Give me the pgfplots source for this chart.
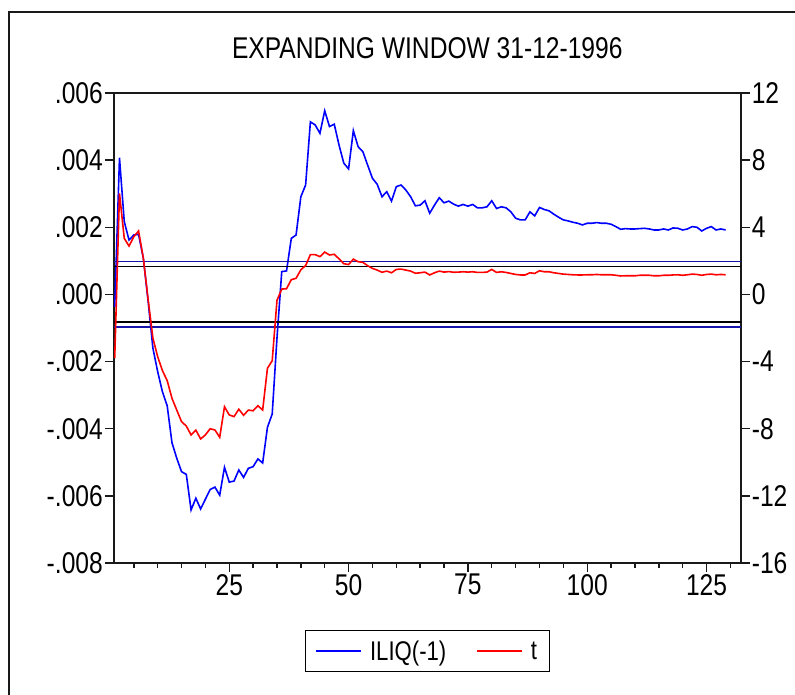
\documentclass[border=0pt]{standalone}
\usepackage{fontspec}
\setmainfont{Liberation Sans}[FakeStretch=0.82]
\usepackage{pgfplots}
\usepackage{pgfplotstable}
\pgfplotsset{compat=1.18}

\definecolor{critblue}{RGB}{20,20,170}
\definecolor{framegray}{RGB}{25,25,25}

% Rolling estimates: coefficient on ILIQ(-1) and its t statistic
\pgfplotstableread{
obs iliq t
1 -0.00037 -3.80
2 0.00407 6.02
3 0.00217 3.34
4 0.00162 2.88
5 0.00177 3.44
6 0.00179 3.78
7 0.00108 2.15
8 -0.00020 -0.30
9 -0.00160 -2.60
10 -0.00230 -3.71
11 -0.00290 -4.54
12 -0.00332 -5.14
13 -0.00442 -6.19
14 -0.00488 -6.89
15 -0.00528 -7.58
16 -0.00536 -7.84
17 -0.00642 -8.37
18 -0.00607 -8.08
19 -0.00639 -8.61
20 -0.00610 -8.37
21 -0.00581 -8.00
22 -0.00574 -8.08
23 -0.00598 -8.51
24 -0.00515 -6.69
25 -0.00559 -7.18
26 -0.00556 -7.28
27 -0.00523 -6.84
28 -0.00545 -7.20
29 -0.00518 -6.89
30 -0.00513 -6.93
31 -0.00490 -6.63
32 -0.00502 -6.89
33 -0.00396 -4.40
34 -0.00356 -3.95
35 -0.00130 -0.35
36 0.00068 0.32
37 0.00070 0.34
38 0.00167 0.88
39 0.00177 0.96
40 0.00291 1.47
41 0.00326 1.72
42 0.00514 2.37
43 0.00505 2.37
44 0.00480 2.25
45 0.00547 2.52
46 0.00500 2.35
47 0.00507 2.39
48 0.00445 2.12
49 0.00391 1.83
50 0.00374 1.78
51 0.00488 2.10
52 0.00440 1.95
53 0.00425 1.91
54 0.00385 1.71
55 0.00346 1.55
56 0.00328 1.45
57 0.00291 1.32
58 0.00306 1.39
59 0.00278 1.29
60 0.00321 1.49
61 0.00326 1.51
62 0.00311 1.45
63 0.00291 1.39
64 0.00264 1.26
65 0.00266 1.29
66 0.00279 1.33
67 0.00242 1.16
68 0.00266 1.29
69 0.00288 1.39
70 0.00273 1.33
71 0.00278 1.36
72 0.00269 1.32
73 0.00263 1.33
74 0.00268 1.35
75 0.00263 1.33
76 0.00268 1.35
77 0.00258 1.31
78 0.00258 1.31
79 0.00261 1.33
80 0.00279 1.49
81 0.00256 1.31
82 0.00261 1.35
83 0.00258 1.31
84 0.00246 1.25
85 0.00227 1.19
86 0.00222 1.16
87 0.00222 1.16
88 0.00246 1.29
89 0.00234 1.25
90 0.00259 1.41
91 0.00253 1.35
92 0.00249 1.35
93 0.00239 1.29
94 0.00230 1.25
95 0.00222 1.21
96 0.00219 1.19
97 0.00215 1.17
98 0.00212 1.16
99 0.00207 1.16
100 0.00212 1.17
101 0.00212 1.17
102 0.00214 1.19
103 0.00212 1.17
104 0.00212 1.17
105 0.00209 1.17
106 0.00202 1.14
107 0.00194 1.10
108 0.00196 1.11
109 0.00195 1.11
110 0.00195 1.11
111 0.00196 1.14
112 0.00197 1.14
113 0.00195 1.14
114 0.00192 1.11
115 0.00192 1.11
116 0.00195 1.14
117 0.00192 1.14
118 0.00198 1.16
119 0.00197 1.17
120 0.00192 1.14
121 0.00195 1.17
122 0.00202 1.21
123 0.00200 1.19
124 0.00189 1.14
125 0.00197 1.19
126 0.00202 1.21
127 0.00192 1.17
128 0.00195 1.19
129 0.00192 1.17
}\rolling

\pgfplotsset{
  twinaxis/.style={
    scale only axis,
    width=626.6pt, height=470pt,
    xmin=0.85, xmax=132.14,
    tick align=outside,
    major tick length=9pt,
    minor tick length=5pt,
    every tick/.style={framegray, line width=1.4pt},
    axis line style={framegray, line width=2pt},
    tick label style={font=\fontsize{30}{36}\selectfont, inner sep=2pt},
    scaled ticks=false,
    clip=false,
  }
}

\begin{document}
\begin{tikzpicture}[x=1pt,y=1pt]
\useasboundingbox (-114,-132) rectangle (681,563);
\draw[line width=1.8pt, framegray] (-105,-200) rectangle (800,551);

\begin{axis}[
  twinaxis,
  ymin=-0.008, ymax=0.006,
  ytick={-0.008,-0.006,-0.004,-0.002,0,0.002,0.004,0.006},
  yticklabels={-.008,-.006,-.004,-.002,.000,.002,.004,.006},
  ytick pos=left,
  xtick={25,50,75,100,125},
  xticklabels={25,50,75,100,125},
  minor xtick={5,10,15,20,30,35,40,45,55,60,65,70,80,85,90,95,105,110,115,120,130},
  xtick pos=bottom,
  title={EXPANDING WINDOW 31-12-1996},
  title style={font=\fontsize{30}{36}\selectfont, at={(0.5,1)}, anchor=base, yshift=28pt},
]
\addplot[blue, line width=1.6pt] table[x=obs, y=iliq] {\rolling};
\end{axis}

\begin{axis}[
  twinaxis,
  ymin=-16, ymax=12,
  ytick={-16,-12,-8,-4,0,4,8,12},
  yticklabels={-16,-12,-8,-4,0,4,8,12},
  axis y line*=right,
  axis x line=none,
  legend columns=2,
  legend style={at={(0.5,-0.1426)}, anchor=north, draw=black, line width=1.2pt,
    font=\fontsize{27}{32}\selectfont, inner xsep=10pt, inner ysep=5pt,
    nodes={inner xsep=2pt, inner ysep=5pt}},
  legend image code/.code={\draw[#1] (0pt,0pt) -- (45pt,0pt); \path (51pt,0pt);},
  /tikz/every even column/.append style={column sep=28pt},
]
\addlegendimage{blue, line width=1.6pt}
\addlegendentry{ILIQ(-1)}
\addplot[critblue, line width=1.8pt, forget plot] coordinates {(0.85,1.96) (132.14,1.96)};
\addplot[critblue, line width=1.8pt, forget plot] coordinates {(0.85,-1.96) (132.14,-1.96)};
\addplot[black, line width=1.3pt, forget plot] coordinates {(0.85,1.645) (132.14,1.645)};
\addplot[black, line width=1.3pt, forget plot] coordinates {(0.85,-1.645) (132.14,-1.645)};
\addplot[red, line width=1.6pt] table[x=obs, y=t] {\rolling};
\addlegendentry{t}
\end{axis}
\end{tikzpicture}
\end{document}
